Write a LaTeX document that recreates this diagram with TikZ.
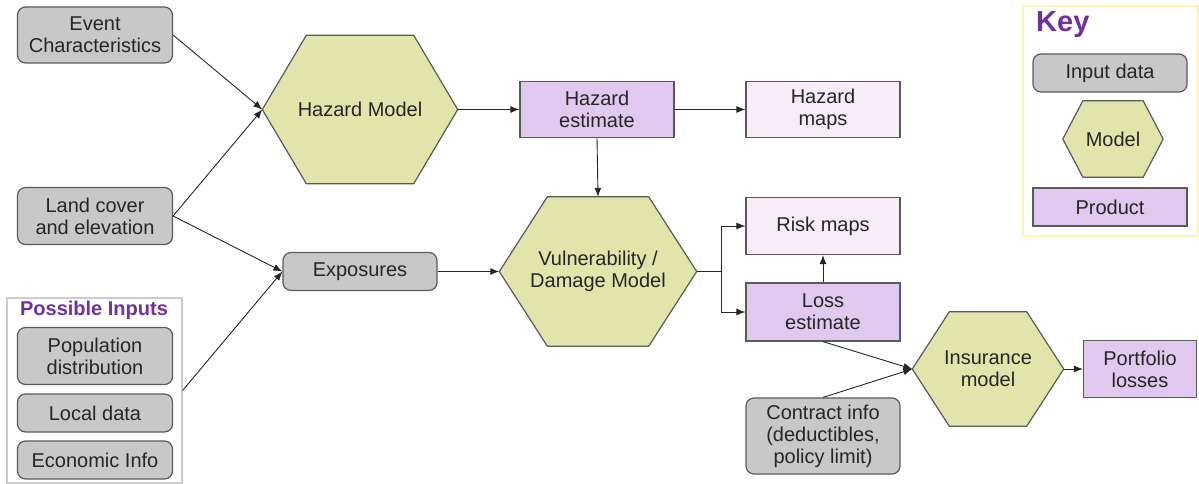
\documentclass[tikz,border=0pt]{standalone}
\usepackage{fontspec}
\setmainfont{Liberation Sans}
\usetikzlibrary{positioning, arrows.meta, backgrounds}
\definecolor{ingrey}{HTML}{C8C8C8}
\definecolor{hexfill}{HTML}{E2E5AB}
\definecolor{prodfill}{HTML}{E1C8EE}
\definecolor{mapfill}{HTML}{F7ECF8}
\definecolor{keypurple}{HTML}{7030A0}
\definecolor{keyyellow}{HTML}{FFF3B0}
\definecolor{edge}{HTML}{5A5A5A}

\begin{document}
\begin{tikzpicture}[x=1pt, y=-1pt, font=\fontsize{20}{22}\selectfont,
	input/.style={draw=edge, line width=1.2pt, fill=ingrey, rounded corners=8pt, align=center,
		inner sep=0pt, minimum width=155pt, text=black!85},
	model/.style={inner sep=0pt, align=center, text=black!85},
	product/.style={draw=edge, line width=1.2pt, fill=prodfill, align=center, inner sep=0pt,
		minimum width=154pt, text=black!85},
	mapbox/.style={product, fill=mapfill},
	arr/.style={-{Latex[length=9pt,width=7pt]}, line width=0.9pt, black!85}]
	\useasboundingbox (0,0) rectangle (1199,483);
	% frames
	\node[draw=black!20, line width=1.2pt, minimum width=175pt, minimum height=185pt] (inputs) at (94.5,390.5) {};
	\node[draw=keyyellow, line width=1.5pt, minimum width=175pt, minimum height=230pt] (keybox) at (1110.5,121) {};
	\node[text=keypurple, font=\fontsize{20}{22}\selectfont\bfseries] (inputstitle) at (94,310) {Possible Inputs};
	\node[text=keypurple, font=\fontsize{29}{30}\selectfont\bfseries, anchor=west, inner sep=0pt] (keytitle) at (1036,25) {Key};
	% inputs
	\node[input, minimum height=56pt] (event) at (95,35) {Event\\Characteristics};
	\node[input, minimum height=57pt] (land) at (95,216) {Land cover\\and elevation};
	\node[input, minimum height=57pt] (popul) at (95,356) {Population\\distribution};
	\node[input, minimum height=38pt] (local) at (95,413) {Local data};
	\node[input, minimum height=38pt] (econ) at (95,460) {Economic Info};
	\node[input, minimum width=154pt, minimum height=38pt] (expos) at (360,271.5) {Exposures};
	\node[input, minimum width=154pt, minimum height=76pt] (contract) at (823,436) {Contract info\\(deductibles,\\policy limit)};
	% models
	\node[model, minimum width=195pt, minimum height=148pt] (hazard) at (360,109.5) {Hazard Model};
	\node[model, minimum width=197pt, minimum height=149pt] (vuln) at (598,271.5) {Vulnerability /\\Damage Model};
	\node[model, minimum width=151pt, minimum height=114pt] (insur) at (988,369) {Insurance\\model};
	% products
	\node[product, minimum height=56pt] (hazest) at (597,109.5) {Hazard\\estimate};
	\node[mapbox, minimum height=56pt] (hazmaps) at (823,109.5) {Hazard\\maps};
	\node[mapbox, minimum height=57pt] (riskmaps) at (823,226) {Risk maps};
	\node[product, minimum height=58pt] (loss) at (823,312) {Loss\\estimate};
	\node[product, minimum width=113pt, minimum height=57pt] (portf) at (1140,369) {Portfolio\\losses};
	% key
	\node[input, minimum width=154pt, minimum height=38pt] (keyinput) at (1110,73) {Input data};
	\node[model, minimum width=100pt, minimum height=76pt] (keymodel) at (1113,139) {Model};
	\node[product, minimum height=38pt] (keyproduct) at (1110,207) {Product};
	% hexagons behind the model nodes
	\begin{scope}[on background layer]
		\foreach \h/\d in {hazard/44, vuln/48, insur/37, keymodel/20}
			\draw[draw=edge, line width=1.2pt, fill=hexfill, line join=round] (\h.west) -- ([xshift=\d pt]\h.north west)
				-- ([xshift=-\d pt]\h.north east) -- (\h.east) -- ([xshift=-\d pt]\h.south east)
				-- ([xshift=\d pt]\h.south west) -- cycle;
	\end{scope}
	% connectors
	\draw[arr] (event.east) -- (hazard.west);
	\draw[arr] (land.east) -- (hazard.west);
	\draw[arr] (land.east) -- (expos.west);
	\draw[arr] (inputs.east) -- (expos.west);
	\draw[arr] (hazard.east) -- (hazest.west);
	\draw[arr] (hazest.east) -- (hazmaps.west);
	\draw[arr] (hazest.south) -- (vuln.north);
	\draw[arr] (expos.east) -- (vuln.west);
	\draw[arr] (vuln.east) -- ++(25,0) |- (riskmaps.west);
	\draw[arr] (vuln.east) -- ++(25,0) |- (loss.west);
	\draw[arr] (loss.north) -- (riskmaps.south);
	\draw[arr] (loss.south) -- (insur.west);
	\draw[arr] (contract.north) -- (insur.west);
	\draw[arr] (insur.east) -- (portf.west);
\end{tikzpicture}
\end{document}
